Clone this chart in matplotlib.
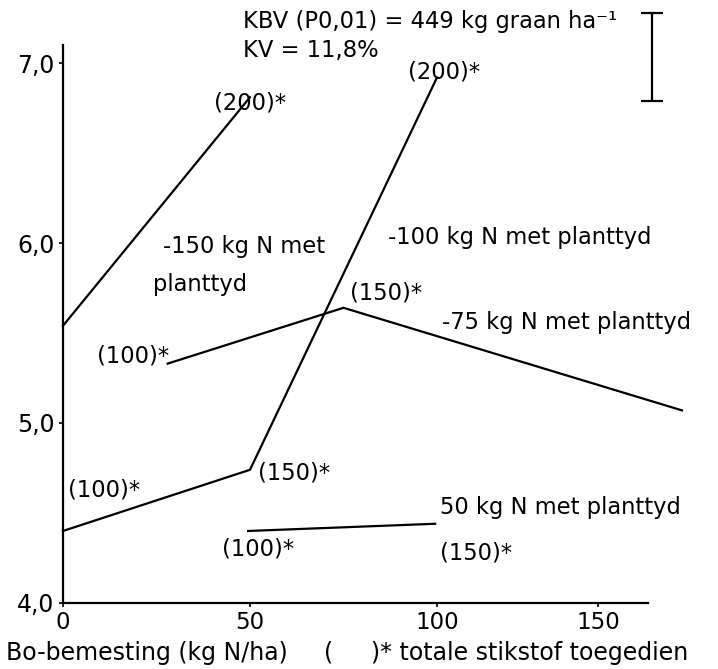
import matplotlib
matplotlib.use("Agg")
import matplotlib.pyplot as plt

plt.rcParams["font.family"] = ["DejaVu Sans"]

# Bo-bemesting (kg N/ha) vs opbrengs, one line per N-level at planting
BO_150 = [0, 50]
Y_150 = [5.54, 6.81]

BO_100 = [0, 50, 100]
Y_100 = [4.40, 4.74, 6.92]

BO_75 = [28, 75, 165.5]
Y_75 = [5.33, 5.64, 5.07]

BO_50 = [49.5, 99.5]
Y_50 = [4.40, 4.44]

# KBV bar (P0,01)
KBV_X = 157.5
KBV_MID = 7.035
KBV_HALF = 0.245

YTICKS = [4.0, 5.0, 6.0, 7.0]
YTICK_LABELS = ["4,0", "5,0", "6,0", "7,0"]
# last label sits where it was printed in the original
XTICKS = [0, 50, 100, 143]
XTICK_LABELS = ["0", "50", "100", "150"]

fig = plt.figure(figsize=(7.18, 6.69), dpi=100)
ax = fig.add_axes([0.0877, 0.0987, 0.8148, 0.834])

for xs, ys in ((BO_150, Y_150), (BO_100, Y_100), (BO_75, Y_75), (BO_50, Y_50)):
    ax.plot(xs, ys, color="black", lw=1.6, clip_on=False)

eb = ax.errorbar([KBV_X], [KBV_MID], yerr=[KBV_HALF], color="black",
                 lw=1.6, capsize=8, capthick=1.6)
for art in eb.lines[1] + eb.lines[2]:
    art.set_clip_on(False)

fs = 16.3
txt = dict(fontsize=fs, va="center", ha="left")
ax.text(40.5, 6.78, "(200)*", **txt)
ax.text(92.2, 6.95, "(200)*", **txt)
ax.text(26.7, 5.98, "-150 kg N met", **txt)
ax.text(24.1, 5.77, "planttyd", **txt)
ax.text(86.9, 6.03, "-100 kg N met planttyd", **txt)
ax.text(76.7, 5.72, "(150)*", **txt)
ax.text(101.3, 5.56, "-75 kg N met planttyd", **txt)
ax.text(9.1, 5.37, "(100)*", **txt)
ax.text(52.1, 4.72, "(150)*", **txt)
ax.text(1.3, 4.63, "(100)*", **txt)
ax.text(100.8, 4.53, "50 kg N met planttyd", **txt)
ax.text(42.5, 4.30, "(100)*", **txt)
ax.text(100.8, 4.28, "(150)*", **txt)
ax.text(48.0, 7.23, "KBV (P0,01) = 449 kg graan ha\u207b\u00b9", clip_on=False, **txt)
ax.text(48.0, 7.07, "KV = 11,8%", clip_on=False, **txt)

ax.set_xlim(0, 156.4)
ax.set_ylim(4.0, 7.1)
ax.set_yticks(YTICKS)
ax.set_yticklabels(YTICK_LABELS, fontsize=17)
ax.set_xticks(XTICKS)
ax.set_xticklabels(XTICK_LABELS, fontsize=16.5)
ax.tick_params(axis="both", length=3, width=1.2, pad=3)
for s in ("top", "right"):
    ax.spines[s].set_visible(False)
for s in ("left", "bottom"):
    ax.spines[s].set_linewidth(1.6)

xl = dict(fontsize=17, va="center")
fig.text(288 / 718, 0.024, "Bo-bemesting (kg N/ha)", ha="right", **xl)
fig.text(324 / 718, 0.024, "(", ha="left", **xl)
fig.text(688 / 718, 0.024, ")* totale stikstof toegedien", ha="right", **xl)

fig.savefig("out.png", dpi=100)
